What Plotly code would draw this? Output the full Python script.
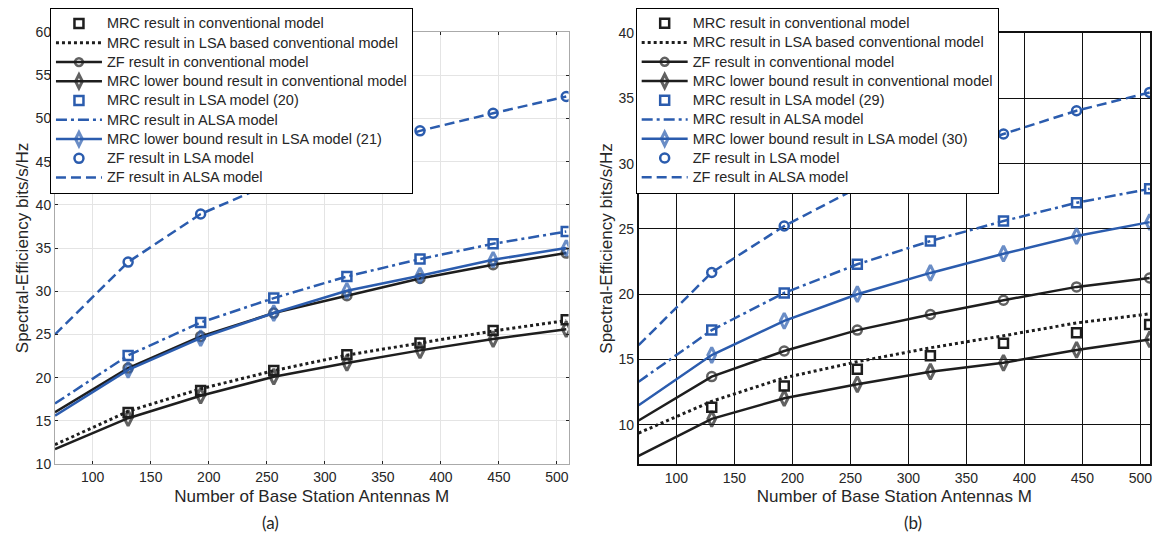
import plotly.graph_objects as go

# Antenna counts (first value = left edge of the axes, where the curves start)
M = [67.5, 130.5, 193, 256, 319, 382, 445, 508]

x_ticks = [100, 150, 200, 250, 300, 350, 400, 450, 500]
ya_ticks = [10, 15, 20, 25, 30, 35, 40, 45, 50, 55, 60]
yb_ticks = [10, 15, 20, 25, 30, 35, 40]

# ---------------- panel (a) ----------------
a_mrc_conv = [None, 15.97, 18.5, 20.83, 22.65, 24.0, 25.46, 26.7]
a_mrc_lsa_conv = [12.23, 16.1, 18.7, 20.8, 22.6, 24.0, 25.4, 26.6]
a_zf_conv = [16.0, 21.1, 24.77, 27.47, 29.47, 31.47, 33.06, 34.41]
a_mrc_lb_conv = [11.73, 15.3, 17.9, 20.1, 21.7, 23.15, 24.46, 25.6]
a_mrc_lsa = [None, 22.57, 26.38, 29.2, 31.7, 33.72, 35.49, 36.9]
a_mrc_alsa = [17.0, 22.57, 26.38, 29.2, 31.7, 33.72, 35.49, 36.9]
a_mrc_lb_lsa = [15.6, 20.9, 24.58, 27.47, 30.05, 31.79, 33.64, 34.99]
a_zf_lsa = [None, 33.37, 38.93, 42.6, 45.8, 48.56, 50.6, 52.53]
a_zf_alsa = [25.0, 33.37, 38.93, 42.6, 45.8, 48.56, 50.6, 52.53]

# ---------------- panel (b) ----------------
b_mrc_conv = [None, 11.35, 12.98, 14.25, 15.29, 16.24, 17.05, 17.69]
b_mrc_lsa_conv = [9.37, 11.8, 13.6, 14.83, 15.9, 16.82, 17.8, 18.5]
b_zf_conv = [10.33, 13.69, 15.65, 17.25, 18.45, 19.54, 20.56, 21.24]
b_mrc_lb_conv = [7.63, 10.46, 12.04, 13.1, 14.07, 14.75, 15.73, 16.54]
b_mrc_lsa = [None, 17.25, 20.1, 22.29, 24.07, 25.6, 27.0, 28.07]
b_mrc_alsa = [13.3, 17.25, 20.1, 22.29, 24.07, 25.6, 27.0, 28.07]
b_mrc_lb_lsa = [11.5, 15.34, 17.96, 20.0, 21.63, 23.1, 24.45, 25.52]
b_zf_lsa = [None, 21.66, 25.22, 28.14, 30.4, 32.27, 34.05, 35.45]
b_zf_alsa = [16.1, 21.66, 25.22, 28.14, 30.4, 32.27, 34.05, 35.45]

names_a = ["MRC result in conventional model",
           "MRC result in LSA based conventional model",
           "ZF result in conventional model",
           "MRC lower bound result in conventional model",
           "MRC result in LSA model (20)",
           "MRC result in ALSA model",
           "MRC lower bound result in LSA model (21)",
           "ZF result in LSA model",
           "ZF result in ALSA model"]
names_b = ["MRC result in conventional model",
           "MRC result in LSA based conventional model",
           "ZF result in conventional model",
           "MRC lower bound result in conventional model",
           "MRC result in LSA model (29)",
           "MRC result in ALSA model",
           "MRC lower bound result in LSA model (30)",
           "ZF result in LSA model",
           "ZF result in ALSA model"]

BLACK = "#1e1e1e"
BLUE = "#2b5cae"
MS = 9

# (mode, color, dash, symbol)
styles = [
    ("markers", BLACK, None, "square-open"),
    ("lines", BLACK, "3px,3px", None),
    ("lines+markers", BLACK, "solid", "circle-open"),
    ("lines+markers", BLACK, "solid", "diamond-tall-open"),
    ("markers", BLUE, None, "square-open"),
    ("lines", BLUE, "11px,4px,3px,4px", None),
    ("lines+markers", BLUE, "solid", "diamond-tall-open"),
    ("markers", BLUE, None, "circle-open"),
    ("lines", BLUE, "10px,5px", None),
]

fig = go.Figure()

def add_panel(series, names, xa, ya, leg):
    for ys, name, (mode, col, dash, sym) in zip(series, names, styles):
        kw = dict(x=M, y=ys, mode=mode, xaxis=xa, yaxis=ya, legend=leg,
                  name='<span style="font-size:14.5px">' + name + '</span>')
        if "lines" in mode:
            kw["line"] = dict(color=col, width=3 if dash == "3px,3px" else 2.5, dash=dash)
        if "markers" in mode:
            lw = 2.5
            if mode == "lines+markers":
                s = MS
                if "diamond" in sym:
                    s, lw = 11, 3
                size = [0] + [s] * (len(M) - 1)
            else:
                size = MS
            kw["marker"] = dict(symbol=sym, size=size, color=col,
                                line=dict(color=col, width=lw))
        fig.add_trace(go.Scatter(**kw))

add_panel([a_mrc_conv, a_mrc_lsa_conv, a_zf_conv, a_mrc_lb_conv, a_mrc_lsa,
           a_mrc_alsa, a_mrc_lb_lsa, a_zf_lsa, a_zf_alsa], names_a, "x", "y", "legend")
add_panel([b_mrc_conv, b_mrc_lsa_conv, b_zf_conv, b_mrc_lb_conv, b_mrc_lsa,
           b_mrc_alsa, b_mrc_lb_lsa, b_zf_lsa, b_zf_alsa], names_b, "x2", "y2", "legend2")

FONT = "Liberation Sans, Arial, sans-serif"
TXT = "#262626"

xtitle = dict(text="Number of Base Station Antennas M", font=dict(size=17, color=TXT, family=FONT), standoff=6)
ytitle = dict(text="Spectral-Efficiency bits/s/Hz", font=dict(size=17, color=TXT, family=FONT), standoff=2)

common_a = dict(showgrid=True, gridcolor="#e4e4e4", gridwidth=1, showline=True,
                linecolor="#aaaaaa", linewidth=1, mirror="all", ticks="inside",
                ticklen=3, tickcolor="#222222", zeroline=False,
                tickfont=dict(size=14, color=TXT, family=FONT))
common_b = dict(showgrid=True, gridcolor="#111111", gridwidth=1, showline=True,
                linecolor="#111111", linewidth=1.5, mirror="all", ticks="inside",
                ticklen=3, tickcolor="#111111", zeroline=False,
                tickfont=dict(size=14, color=TXT, family=FONT))

legend_common = dict(xanchor="left", yanchor="top", bgcolor="white",
                     bordercolor="black", borderwidth=1,
                     font=dict(size=12.5, color=TXT, family=FONT),
                     tracegroupgap=0, itemwidth=46)

fig.update_layout(
    width=1153, height=534,
    margin=dict(l=55, r=1, t=32, b=70),
    paper_bgcolor="white", plot_bgcolor="white",
    font=dict(family=FONT, color=TXT),
    showlegend=True,
    xaxis=dict(domain=[0, 0.469], range=[67.5, 510], tickvals=x_ticks,
               title=xtitle, anchor="y", **common_a),
    yaxis=dict(domain=[0, 1], range=[10, 60], tickvals=ya_ticks,
               title=ytitle, anchor="x", **common_a),
    xaxis2=dict(domain=[0.533, 1], range=[67.5, 508.3], tickvals=x_ticks,
                title=xtitle, anchor="y2", **common_b),
    yaxis2=dict(domain=[0, 0.9977], range=[7, 40], tickvals=yb_ticks,
                title=ytitle, anchor="x2", **common_b),
    legend=dict(x=-0.0046, y=1.0556, **legend_common),
    legend2=dict(x=0.5303, y=1.0563, **legend_common),
    annotations=[
        dict(text="(a)", x=0.1965, y=-0.136, xref="paper", yref="paper",
             xanchor="center", yanchor="middle", showarrow=False,
             font=dict(family="Lato, Open Sans, sans-serif", size=17, color=TXT)),
        dict(text="(b)", x=0.7834, y=-0.136, xref="paper", yref="paper",
             xanchor="center", yanchor="middle", showarrow=False,
             font=dict(family="Lato, Open Sans, sans-serif", size=17, color=TXT)),
    ],
)

fig.write_html("out.html")
